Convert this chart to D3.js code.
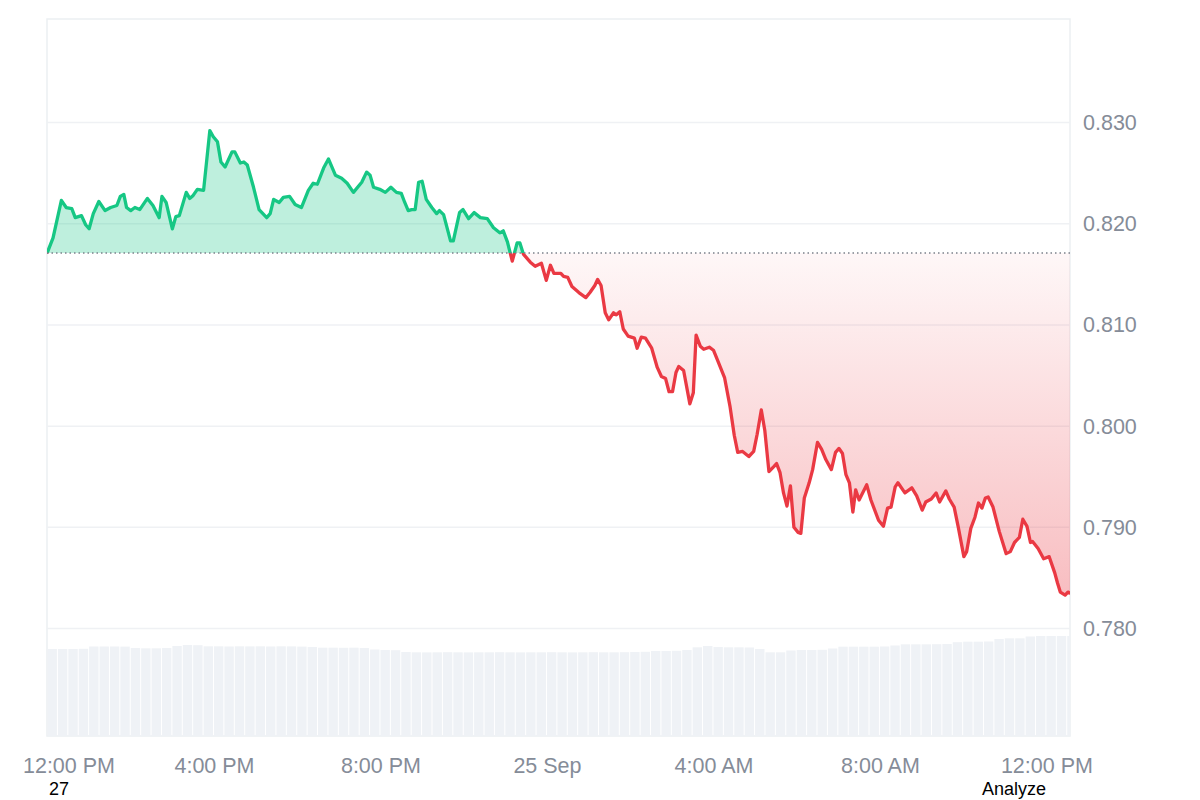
<!DOCTYPE html>
<html lang="en">
<head>
<meta charset="UTF-8">
<title>Price chart 24h</title>
<script src="https://d3js.org/d3.v7.min.js"></script>
<style>
  body { margin: 0; background: #fff; font-family: "Liberation Sans", Arial, sans-serif; }
  .axis text { fill: #858c98; font-size: 21.5px; font-family: "Liberation Sans", Arial, sans-serif; }
  .axis path, .axis line { display: none; }
  .note { fill: #000; font-size: 18px; }
</style>
</head>
<body>
<div id="chart"></div>
<script>
// minutes after 24 Sep 12:00 PM
const minutes = [
  0, 8, 20, 27, 35, 40, 49, 55, 60, 66, 74, 83, 91, 100, 105, 110, 114, 120, 126, 133,
  144, 152, 161, 165, 171, 180, 185, 190, 200, 205, 210, 216, 225, 234, 239, 245, 250, 256, 266, 270,
  278, 283, 288, 297, 305, 316, 321, 326, 334, 340, 349, 357, 366, 376, 383, 389, 398, 405, 415, 424,
  432, 441, 453, 460, 465, 470, 479, 487, 495, 503, 510, 515, 520, 525, 530, 535, 540, 546, 554, 561,
  565, 571, 581, 585, 594, 599, 607, 615, 624, 634, 643, 652, 657, 663, 670, 677, 681, 686, 696, 703,
  712, 719, 725, 730, 740, 744, 750, 756, 766, 776, 782, 789, 793, 798, 804, 809, 816, 820, 825, 830,
  837, 846, 850, 856, 862, 871, 879, 885, 891, 896, 901, 906, 910, 917, 926, 931, 935, 941, 946, 954,
  960, 966, 976, 984, 990, 995, 1002, 1011, 1018, 1023, 1029, 1034, 1040, 1047, 1051, 1056, 1061, 1066, 1071, 1076,
  1082, 1086, 1091, 1098, 1103, 1110, 1116, 1122, 1130, 1136, 1141, 1146, 1151, 1156, 1161, 1165, 1170, 1181, 1187, 1198,
  1205, 1211, 1216, 1222, 1226, 1236, 1246, 1253, 1261, 1266, 1274, 1281, 1286, 1295, 1300, 1307, 1313, 1321, 1325, 1331,
  1337, 1342, 1347, 1352, 1356, 1363, 1372, 1382, 1388, 1394, 1401, 1406, 1412, 1417, 1420, 1428, 1436, 1444, 1452, 1456,
  1460, 1467, 1471, 1474
];
const prices = [
  0.8172, 0.8186, 0.8223, 0.8216, 0.8215, 0.8206, 0.8208, 0.8199, 0.8195, 0.8210, 0.8222, 0.8213, 0.8216, 0.8218, 0.8227, 0.8229, 0.8216, 0.8213, 0.8216, 0.8214,
  0.8225, 0.8218, 0.8206, 0.8227, 0.8221, 0.8195, 0.8207, 0.8208, 0.8231, 0.8225, 0.8228, 0.8234, 0.8233, 0.8292, 0.8286, 0.8281, 0.8261, 0.8256, 0.8271, 0.8271,
  0.8260, 0.8261, 0.8258, 0.8236, 0.8214, 0.8206, 0.8210, 0.8224, 0.8221, 0.8226, 0.8227, 0.8219, 0.8216, 0.8233, 0.8240, 0.8239, 0.8255, 0.8264, 0.8248, 0.8245,
  0.8240, 0.8231, 0.8241, 0.8251, 0.8248, 0.8236, 0.8234, 0.8231, 0.8236, 0.8231, 0.8230, 0.8221, 0.8213, 0.8214, 0.8214, 0.8241, 0.8242, 0.8224, 0.8216, 0.8210,
  0.8213, 0.8209, 0.8183, 0.8183, 0.8211, 0.8214, 0.8205, 0.8211, 0.8206, 0.8205, 0.8196, 0.8191, 0.8193, 0.8182, 0.8163, 0.8181, 0.8181, 0.8170, 0.8162, 0.8158,
  0.8161, 0.8144, 0.8159, 0.8151, 0.8151, 0.8148, 0.8147, 0.8138, 0.8132, 0.8127, 0.8132, 0.8139, 0.8145, 0.8139, 0.8112, 0.8105, 0.8112, 0.8110, 0.8113, 0.8096,
  0.8089, 0.8087, 0.8077, 0.8088, 0.8087, 0.8077, 0.8058, 0.8049, 0.8047, 0.8034, 0.8034, 0.8053, 0.8059, 0.8055, 0.8022, 0.8033, 0.8090, 0.8079, 0.8076, 0.8078,
  0.8075, 0.8065, 0.8048, 0.8019, 0.7991, 0.7974, 0.7975, 0.7970, 0.7975, 0.7992, 0.8016, 0.7996, 0.7955, 0.7960, 0.7963, 0.7954, 0.7934, 0.7921, 0.7941, 0.7900,
  0.7895, 0.7894, 0.7929, 0.7944, 0.7957, 0.7984, 0.7977, 0.7967, 0.7957, 0.7974, 0.7978, 0.7973, 0.7952, 0.7944, 0.7915, 0.7937, 0.7927, 0.7942, 0.7927, 0.7907,
  0.7901, 0.7919, 0.7920, 0.7940, 0.7944, 0.7934, 0.7939, 0.7931, 0.7917, 0.7925, 0.7928, 0.7934, 0.7925, 0.7936, 0.7928, 0.7920, 0.7900, 0.7871, 0.7876, 0.7899,
  0.7910, 0.7924, 0.7919, 0.7929, 0.7930, 0.7920, 0.7896, 0.7874, 0.7876, 0.7885, 0.7890, 0.7908, 0.7901, 0.7885, 0.7886, 0.7879, 0.7869, 0.7871, 0.7855, 0.7845,
  0.7836, 0.7833, 0.7836, 0.7835
];
// volume per 15 minutes (relative units)
const volumes = [
  87.0, 87.0, 87.0, 87.2, 89.5, 89.5, 89.5, 89.4, 88.0, 87.7, 87.7, 88.0, 90.0, 91.0, 90.8, 89.7, 89.7, 89.5, 89.7, 89.6,
  89.7, 89.5, 89.7, 89.6, 89.4, 89.0, 88.3, 88.3, 88.2, 88.3, 88.0, 86.5, 86.0, 85.8, 84.0, 83.7, 83.6, 83.7, 83.8, 83.7,
  83.6, 83.7, 83.7, 83.8, 83.7, 83.6, 83.7, 83.7, 83.8, 83.7, 83.6, 83.7, 83.8, 83.7, 83.7, 83.8, 84.0, 84.2, 85.0, 85.0,
  85.2, 86.0, 88.7, 90.0, 89.0, 88.7, 88.7, 88.5, 87.0, 83.7, 83.7, 85.5, 86.0, 86.0, 86.2, 87.5, 89.3, 89.3, 89.3, 89.3,
  89.5, 90.5, 91.7, 91.7, 91.7, 91.8, 92.0, 93.8, 94.3, 94.3, 94.5, 97.0, 97.7, 97.7, 99.5, 100.0, 100.0, 100.0, 100.0
];
const priceTicks = [0.78, 0.79, 0.80, 0.81, 0.82, 0.83];
const openPrice = 0.8171;
const startTime = new Date(2024, 8, 24, 12, 0);

const width = 1200, height = 800;
const plotBox = { left: 47, right: 1070, top: 19, bottom: 736 };
const green = "#16c784", red = "#ea3943";

const data = minutes.map((m, i) => ({ date: d3.timeMinute.offset(startTime, m), price: prices[i] }));
const endTime = data[data.length - 1].date;

const x = d3.scaleTime().domain([startTime, endTime]).range([plotBox.left + 0.5, plotBox.right]);
const y = d3.scaleLinear().domain([0.76938, 0.84023]).range([plotBox.bottom, plotBox.top]);
const yVol = d3.scaleLinear().domain([0, 100]).range([plotBox.bottom, plotBox.bottom - 100]);

const svg = d3.select("#chart").append("svg")
  .attr("width", width)
  .attr("height", height);

const pw = plotBox.right - plotBox.left;
const yOpen = y(openPrice);
const defs = svg.append("defs");
defs.append("clipPath").attr("id", "plot")
  .append("rect").attr("x", plotBox.left).attr("y", plotBox.top).attr("width", pw).attr("height", plotBox.bottom - plotBox.top);
defs.append("clipPath").attr("id", "above")
  .append("rect").attr("x", plotBox.left).attr("y", plotBox.top).attr("width", pw).attr("height", yOpen - plotBox.top);
defs.append("clipPath").attr("id", "below")
  .append("rect").attr("x", plotBox.left).attr("y", yOpen).attr("width", pw).attr("height", plotBox.bottom - yOpen);

const grad = defs.append("linearGradient").attr("id", "redFill")
  .attr("gradientUnits", "userSpaceOnUse")
  .attr("x1", 0).attr("x2", 0)
  .attr("y1", yOpen).attr("y2", y(d3.min(prices)));
grad.append("stop").attr("offset", "0%").attr("stop-color", red).attr("stop-opacity", 0.04);
grad.append("stop").attr("offset", "100%").attr("stop-color", red).attr("stop-opacity", 0.33);

// frame
svg.append("rect")
  .attr("x", plotBox.left).attr("y", plotBox.top)
  .attr("width", pw).attr("height", plotBox.bottom - plotBox.top)
  .attr("fill", "none").attr("stroke", "#eceff2").attr("stroke-width", 1.5);

// grid
svg.append("g").selectAll("line").data(priceTicks).join("line")
  .attr("x1", plotBox.left).attr("x2", plotBox.right)
  .attr("y1", d => y(d)).attr("y2", d => y(d))
  .attr("stroke", "#eff1f4").attr("stroke-width", 1.5);

// volume bars
const step = x(d3.timeMinute.offset(startTime, 15)) - x(startTime);
svg.append("g").attr("clip-path", "url(#plot)")
  .selectAll("rect").data(volumes).join("rect")
  .attr("x", (d, i) => x(d3.timeMinute.offset(startTime, i * 15)))
  .attr("width", step - 1)
  .attr("y", d => yVol(d))
  .attr("height", d => plotBox.bottom - yVol(d))
  .attr("fill", "#eff2f6");

const plot = svg.append("g").attr("clip-path", "url(#plot)");

const area = d3.area()
  .x(d => x(d.date))
  .y0(yOpen)
  .y1(d => y(d.price));
const line = d3.line()
  .x(d => x(d.date))
  .y(d => y(d.price));

plot.append("g").attr("clip-path", "url(#above)")
  .append("path").datum(data).attr("d", area)
  .attr("fill", green).attr("fill-opacity", 0.28);
plot.append("g").attr("clip-path", "url(#below)")
  .append("path").datum(data).attr("d", area)
  .attr("fill", "url(#redFill)");

// open price reference
svg.append("line")
  .attr("x1", plotBox.left).attr("x2", plotBox.right)
  .attr("y1", yOpen).attr("y2", yOpen)
  .attr("stroke", "#7b818b").attr("stroke-width", 1.5)
  .attr("stroke-dasharray", "1.5 3");

plot.append("g").attr("clip-path", "url(#above)")
  .append("path").datum(data).attr("d", line)
  .attr("fill", "none").attr("stroke", green).attr("stroke-width", 3.3)
  .attr("stroke-linejoin", "round").attr("stroke-linecap", "round");
plot.append("g").attr("clip-path", "url(#below)")
  .append("path").datum(data).attr("d", line)
  .attr("fill", "none").attr("stroke", red).attr("stroke-width", 3.3)
  .attr("stroke-linejoin", "round").attr("stroke-linecap", "round");

// axes
svg.append("g")
  .attr("class", "axis")
  .attr("transform", `translate(${plotBox.right},0)`)
  .call(d3.axisRight(y).tickValues(priceTicks).tickSize(0).tickPadding(13).tickFormat(d3.format(".3f")));

const timeTicks = d3.timeHour.every(4).range(startTime, d3.timeMinute.offset(endTime, 1));
const fmtTime = d3.timeFormat("%-I:%M %p");
const fmtDay = d3.timeFormat("%-d %b");
const xAxis = svg.append("g")
  .attr("class", "axis")
  .attr("transform", `translate(0,${plotBox.bottom})`)
  .call(d3.axisBottom(x).tickValues(timeTicks).tickSize(0).tickPadding(22)
    .tickFormat(d => d.getHours() === 0 ? fmtDay(d) : fmtTime(d)));
xAxis.selectAll(".tick text").filter((d, i) => i === 0).attr("dx", 21);

svg.append("text").attr("class", "note").attr("x", 49).attr("y", 795).text("27");
svg.append("text").attr("class", "note").attr("x", 982).attr("y", 795).text("Analyze");
</script>
</body>
</html>
